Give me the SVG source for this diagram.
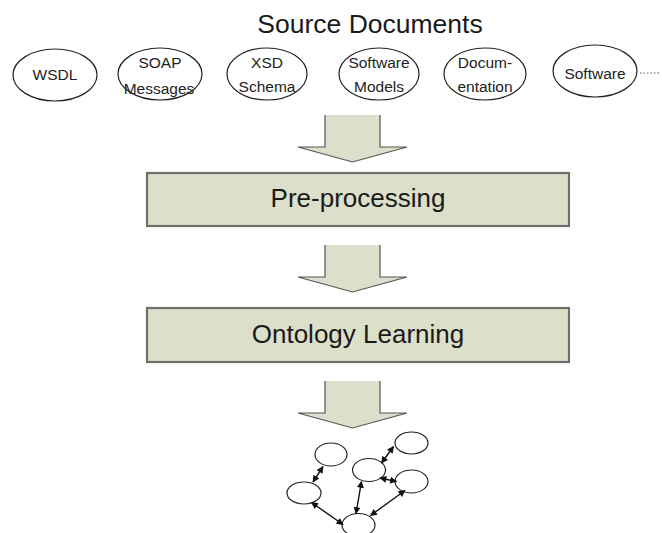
<svg xmlns="http://www.w3.org/2000/svg" width="662" height="533" viewBox="0 0 662 533">
<defs>
<style>
.doc{fill:#fff;stroke:#222;stroke-width:1.2}
.dt{font-family:"Liberation Sans",Arial,sans-serif;font-size:15.5px;fill:#222;text-anchor:middle}
.big{font-family:"Liberation Sans",Arial,sans-serif;font-size:26px;fill:#1a1a1a;text-anchor:middle}
.ttl{font-family:"Liberation Sans",Arial,sans-serif;font-size:26.5px;fill:#1a1a1a;text-anchor:middle}
.box{fill:#dcdfca;stroke:#6e6e6a;stroke-width:2.2}
.af{fill:#dcdfca;stroke:none}
.as{fill:none;stroke:#555;stroke-width:1.2;stroke-linejoin:miter}
.gn{fill:#fff;stroke:#222;stroke-width:1.2}
.ge{stroke:#111;stroke-width:1.4;fill:none;marker-start:url(#ah);marker-end:url(#ah)}
</style>
<marker id="ah" viewBox="0 0 10 10" refX="9" refY="5" markerWidth="8" markerHeight="7" orient="auto-start-reverse" markerUnits="userSpaceOnUse">
<path d="M0,0 L10,5 L0,10 z" fill="#111"/>
</marker>
</defs>
<rect width="662" height="533" fill="#fff"/>

<text class="ttl" x="370" y="33">Source Documents</text>

<g id="wsdl"><ellipse class="doc" cx="55" cy="75" rx="42" ry="26"/><text class="dt" x="55" y="80">WSDL</text></g>
<g id="soap"><ellipse class="doc" cx="160" cy="74" rx="42" ry="26"/><text class="dt" x="160" y="68">SOAP</text><text class="dt" x="159" y="94">Messages</text></g>
<g id="xsd"><ellipse class="doc" cx="267" cy="74" rx="40" ry="26"/><text class="dt" x="267" y="68">XSD</text><text class="dt" x="267" y="92">Schema</text></g>
<g id="models"><ellipse class="doc" cx="379" cy="74" rx="40" ry="26"/><text class="dt" x="379" y="68">Software</text><text class="dt" x="379" y="92">Models</text></g>
<g id="doc"><ellipse class="doc" cx="485" cy="74" rx="41" ry="26"/><text class="dt" x="485" y="68">Docum-</text><text class="dt" x="485" y="92">entation</text></g>
<g id="software"><ellipse class="doc" cx="595" cy="71" rx="42" ry="26"/><text class="dt" x="595" y="79">Software</text></g>
<line x1="640" y1="73" x2="659" y2="73" stroke="#555" stroke-width="1" stroke-dasharray="1.5,2"/>

<g id="arrow1">
<polygon class="af" points="325,115 380,115 380,147 407,147 352.5,162 298,147 325,147"/>
<polyline class="as" points="325,115 325,147 298,147 352.5,162 407,147 380,147 380,115"/>
</g>

<g id="preprocessing">
<rect class="box" x="147" y="173" width="422" height="53"/>
<text class="big" x="358" y="207">Pre-processing</text>
</g>

<g id="arrow2">
<polygon class="af" points="325,245 380,245 380,277 407,277 352.5,292 298,277 325,277"/>
<polyline class="as" points="325,245 325,277 298,277 352.5,292 407,277 380,277 380,245"/>
</g>

<g id="ontology">
<rect class="box" x="147" y="308" width="422" height="54"/>
<text class="big" x="358" y="343">Ontology Learning</text>
</g>

<g id="arrow3">
<polygon class="af" points="325,381 380,381 380,413 407,413 352.5,428 298,413 325,413"/>
<polyline class="as" points="325,381 325,413 298,413 352.5,428 407,413 380,413 380,381"/>
</g>

<g id="graph">
<g id="gA"><ellipse class="gn" cx="331" cy="454.5" rx="16" ry="11.5"/></g>
<g id="gB"><ellipse class="gn" cx="304" cy="493" rx="17" ry="11"/></g>
<g id="gC"><ellipse class="gn" cx="369" cy="470" rx="16.5" ry="11.5"/></g>
<g id="gD"><ellipse class="gn" cx="411.5" cy="443" rx="16.5" ry="11"/></g>
<g id="gE"><ellipse class="gn" cx="411.5" cy="481.5" rx="16.5" ry="11.5"/></g>
<g id="gF"><ellipse class="gn" cx="358.5" cy="525" rx="16.5" ry="11.5"/></g>
</g>

<g id="connectors">
<line class="ge" x1="323" y1="466.5" x2="313" y2="482"/>
<line class="ge" x1="381.5" y1="463" x2="393.5" y2="446.5"/>
<line class="ge" x1="380" y1="478" x2="396.5" y2="481.5"/>
<line class="ge" x1="361.5" y1="481.5" x2="356" y2="513.5"/>
<line class="ge" x1="311.5" y1="502.5" x2="343" y2="524.5"/>
<line class="ge" x1="405" y1="490.5" x2="370.5" y2="515.5"/>
</g>
</svg>
